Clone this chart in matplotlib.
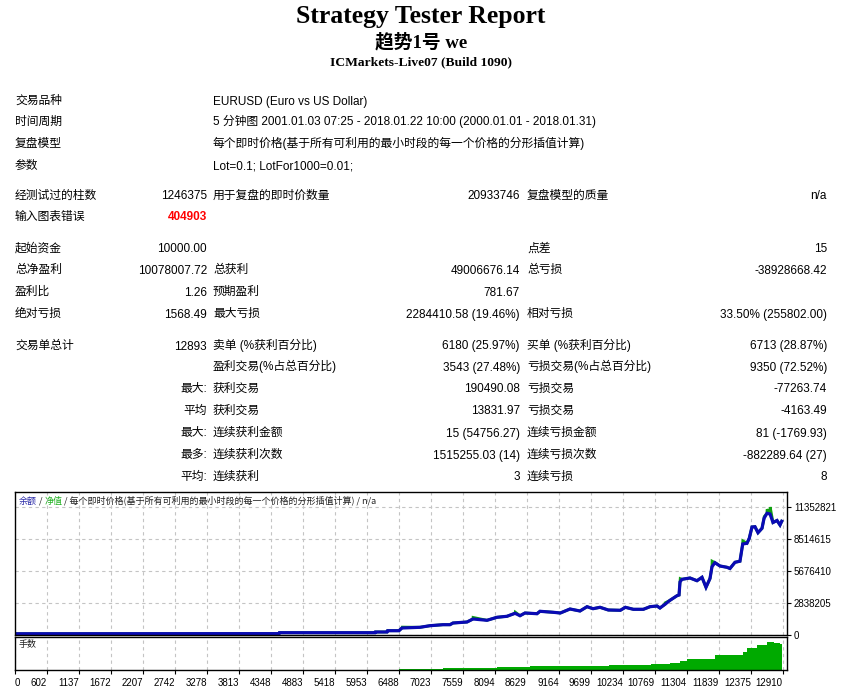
import matplotlib
matplotlib.use('Agg')
import matplotlib.pyplot as plt

plt.rcParams['font.family'] = ['Liberation Sans', 'Noto Sans CJK SC', 'DejaVu Sans']

# report header
title = 'Strategy Tester Report'
subtitle = '趋势1号 we'
server = 'ICMarkets-Live07 (Build 1090)'

info_labels = ['交易品种', '时间周期', '复盘模型', '参数']
info_values = ['EURUSD (Euro vs US Dollar)',
               '5 分钟图 2001.01.03 07:25 - 2018.01.22 10:00 (2000.01.01 - 2018.01.31)',
               '每个即时价格(基于所有可利用的最小时段的每一个价格的分形插值计算)',
               'Lot=0.1; LotFor1000=0.01;']

stats_rows = [
    ('经测试过的柱数', '1246375', '用于复盘的即时价数量', '20933746', '复盘模型的质量', 'n/a'),
    ('输入图表错误', '404903', '', '', '', ''),
    ('起始资金', '10000.00', '', '', '点差', '15'),
    ('总净盈利', '10078007.72', '总获利', '49006676.14', '总亏损', '-38928668.42'),
    ('盈利比', '1.26', '预期盈利', '781.67', '', ''),
    ('绝对亏损', '1568.49', '最大亏损', '2284410.58 (19.46%)', '相对亏损', '33.50% (255802.00)'),
    ('交易单总计', '12893', '卖单 (%获利百分比)', '6180 (25.97%)', '买单 (%获利百分比)', '6713 (28.87%)'),
    ('', '', '盈利交易(%占总百分比)', '3543 (27.48%)', '亏损交易(%占总百分比)', '9350 (72.52%)'),
    ('', '最大:', '获利交易', '190490.08', '亏损交易', '-77263.74'),
    ('', '平均', '获利交易', '13831.97', '亏损交易', '-4163.49'),
    ('', '最大:', '连续获利金额', '15 (54756.27)', '连续亏损金额', '81 (-1769.93)'),
    ('', '最多:', '连续获利次数', '1515255.03 (14)', '连续亏损次数', '-882289.64 (27)'),
    ('', '平均:', '连续获利', '3', '连续亏损', '8'),
]

# balance curve (trade number, balance in thousands)
trade_n = [0, 4098, 4483, 4490, 6089, 6095, 6290, 6300, 6490, 6540, 6842, 7009, 7226,
           7343, 7394, 7628, 7728, 7962, 8130, 8297, 8431, 8515, 8598, 8799, 8849, 9072,
           9189, 9351, 9518, 9636, 9736, 9853, 9992, 10193, 10277, 10411, 10578, 10689,
           10806, 10856, 10940, 11024, 11141, 11175, 11191, 11224, 11358, 11475, 11559,
           11626, 11693, 11726, 11776, 11860, 11977, 12027, 12111, 12194, 12240, 12311,
           12350, 12395, 12445, 12496, 12563, 12597, 12646, 12697, 12747, 12814, 12864, 12893]
balance_k = [110, 120, 120, 204, 204, 266, 266, 381, 381, 621, 683, 825, 914,
             914, 1064, 1153, 1419, 1304, 1570, 1659, 1925, 1712, 1951, 1889, 2102, 2013,
             1951, 2306, 2129, 2510, 2333, 2457, 2217, 2191, 2457, 2279, 2279, 2510,
             2572, 2395, 2723, 3078, 3486, 3548, 4701, 4940, 5056, 4816, 5118,
             4231, 5011, 6058, 6413, 6120, 6005, 5898, 6448, 6546, 8071, 8133,
             8577, 9579, 9605, 9073, 9464, 10351, 10794, 10732, 9978, 10156, 9756, 10088]

# equity spikes poking out of the balance line
spike_n = [6545, 7730, 8435, 10942, 11195, 11728, 12242, 12600, 12648, 12700]
spike_k = [700, 1560, 2030, 2850, 5000, 6550, 8350, 10500, 11150, 11350]

# lot sizes, lower panel
lot_n = [0, 4483, 6490, 7059, 7226, 7560, 7678, 8130, 8682, 9189, 9700, 10000, 10639,
         10700, 11024, 11191, 11308, 11743, 11780, 12245, 12312, 12480, 12646, 12760,
         12864, 12893]
lots = [0.5, 1, 2, 4, 8, 8, 9, 12, 15, 17, 17, 19, 19,
        23, 28, 35, 44, 44, 59, 71, 84, 96, 108, 104, 101, 104]

x_ticks = [602, 1137, 1672, 2207, 2742, 3278, 3813, 4348, 4883, 5418, 5953, 6488, 7023,
           7559, 8094, 8629, 9164, 9699, 10234, 10769, 11304, 11839, 12375, 12910]
y_ticks = [0, 2838205, 5676410, 8514615, 11352821]

W, H = 843, 687
fig = plt.figure(figsize=(W / 100, H / 100), dpi=100)
fig.patch.set_facecolor('white')


def fx(px):
    return px / W


def fy(py):
    return 1 - py / H


def has_cjk(s):
    return any(ord(c) > 0x2e80 for c in s)


# header text
serif = ['Liberation Serif', 'Noto Sans CJK SC', 'DejaVu Serif']
fig.text(fx(421), fy(23.5), title, ha='center', va='baseline', family=serif,
         weight='bold', fontsize=18.5)
fig.text(fx(421), fy(47.5), subtitle, ha='center', va='baseline', family=serif,
         weight='bold', fontsize=13.5)
fig.text(fx(421), fy(65), server, ha='center', va='baseline', family=serif,
         weight='bold', fontsize=9.7)

fs = 8.5
off = 4.5  # baseline below row centre


def cell(px, yy, s, **kw):
    # CJK glyphs sit a little low next to digits; lift them slightly
    lift = 0.5 if has_cjk(s) else 0.0
    fig.text(fx(px), fy(yy + off - lift), s, va='baseline', fontsize=fs, **kw)


info_y = [100, 121, 143, 165]
for lab, val, yy in zip(info_labels, info_values, info_y):
    cell(15, yy, lab)
    cell(213, yy, val)

stats_y = [195, 216, 248, 269, 291, 313, 345, 366, 388, 410, 432, 454, 476]
for row, yy in zip(stats_rows, stats_y):
    l1, v1, l2, v2, l3, v3 = row
    cell(15, yy, l1)
    if v1 == '404903':
        cell(207, yy, v1, ha='right', color='#ff0000', weight='bold')
    else:
        cell(207, yy, v1, ha='right')
    cell(213, yy, l2)
    cell(520, yy, v2, ha='right')
    cell(527, yy, l3)
    cell(827, yy, v3, ha='right')

# chart panels
left, right = 15, 787
ax = fig.add_axes([fx(left), fy(635), (right - left) / W, (635 - 492) / H])
ax2 = fig.add_axes([fx(left), fy(670), (right - left) / W, (670 - 637) / H])

x_lo, x_hi = 67, 12981
grid_kw = dict(color='#c4c4c4', linestyle=(0, (3, 3)), linewidth=0.8)
tick_fs = 7

bal = [b * 1000 for b in balance_k]
eq_pairs = sorted(list(zip(trade_n, bal)) + [(n, k * 1000) for n, k in zip(spike_n, spike_k)])
ax.plot([p[0] for p in eq_pairs], [p[1] for p in eq_pairs], color='#10a010', lw=2.0,
        solid_joinstyle='miter')
ax.plot(trade_n, bal, color='#0a0ab4', lw=2.3, solid_joinstyle='miter')
ax.set_xlim(x_lo, x_hi)
ax.set_ylim(0, 12683000)
ax.set_xticks(x_ticks)
ax.set_yticks(y_ticks)
ax.set_yticklabels([str(v) for v in y_ticks])
ax.yaxis.tick_right()
ax.tick_params(axis='x', length=0, labelbottom=False)
ax.tick_params(axis='y', length=3, width=0.8, pad=2, direction='out',
               labelsize=tick_fs)
ax.grid(True, **grid_kw)
ax.set_axisbelow(True)

small = 6.5
t1 = ax.text(0.005, 0.937, '余额', transform=ax.transAxes, va='center',
             fontsize=small, color='#2a2aa8', family=['Noto Sans CJK SC'])
t2 = ax.annotate(' / ', xy=(1, 0), xycoords=t1, va='bottom', fontsize=small,
                 color='#202020', family=['Noto Sans CJK SC'])
t3 = ax.annotate('净值', xy=(1, 0), xycoords=t2, va='bottom', fontsize=small,
                 color='#20b020', family=['Noto Sans CJK SC'])
ax.annotate(' / 每个即时价格(基于所有可利用的最小时段的每一个价格的分形插值计算) / n/a',
            xy=(1, 0), xycoords=t3, va='bottom', fontsize=small, color='#202020',
            family=['Noto Sans CJK SC'])

ax2.fill_between(lot_n, lots, step='post', color='#00aa00', lw=0)
ax2.set_xlim(x_lo, x_hi)
ax2.set_ylim(0, 128)
ax2.set_yticks([])
ax2.set_xticks([x_lo] + x_ticks)
ax2.set_xticklabels(['0'] + [str(v) for v in x_ticks])
ax2.tick_params(axis='x', length=3, width=0.8, pad=3, labelsize=tick_fs)
for i, lab in enumerate(ax2.get_xticklabels()):
    lab.set_ha('left' if i == 0 else 'right')
ax2.grid(True, axis='x', **grid_kw)
ax2.set_axisbelow(True)
ax2.text(0.005, 0.76, '手数', transform=ax2.transAxes, va='center', fontsize=small,
         color='#202020', family=['Noto Sans CJK SC'])

for a in (ax, ax2):
    for sp in a.spines.values():
        sp.set_linewidth(1.0)
        sp.set_color('black')

fig.savefig('out.png', dpi=100)
